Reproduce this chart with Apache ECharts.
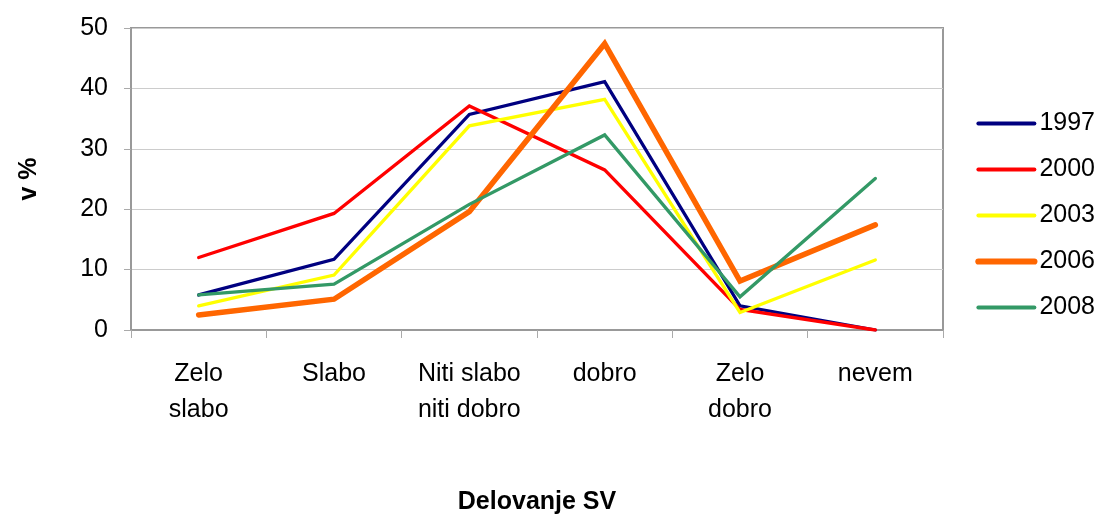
<!DOCTYPE html>
<html>
<head>
<meta charset="utf-8">
<script src="https://cdn.jsdelivr.net/npm/echarts@6/dist/echarts.min.js"></script>
<style>
html,body{margin:0;padding:0;background:#fff;}
#main{width:1103px;height:518px;}
</style>
</head>
<body>
<div id="main"></div>
<script>
var categories = ['Zelo\nslabo', 'Slabo', 'Niti slabo\nniti dobro', 'dobro', 'Zelo\ndobro', 'nevem'];
var years = ['1997', '2000', '2003', '2006', '2008'];
var v1997 = [5.8, 11.7, 35.7, 41.1, 4.0, 0];
var v2000 = [12.0, 19.3, 37.1, 26.5, 3.4, 0];
var v2003 = [4.0, 9.1, 33.8, 38.2, 2.9, 11.6];
var v2006 = [2.5, 5.1, 19.6, 47.4, 8.1, 17.4];
var v2008 = [5.8, 7.6, 20.8, 32.3, 5.5, 25.1];
var yTicks = [0, 10, 20, 30, 40, 50];

var colors = ['#000080', '#ff0000', '#ffff00', '#ff6600', '#339966'];
var widths = [3.3, 3.3, 3.3, 5.5, 3.3];
var allData = [v1997, v2000, v2003, v2006, v2008];

var font = 'Liberation Sans, Arial, sans-serif';
var myChart = echarts.init(document.getElementById('main'));

var series = [];
var legendData = [];
for (var i = 0; i < years.length; i++) {
	series.push({
		name: years[i],
		type: 'line',
		data: allData[i],
		symbol: 'none',
		color: colors[i],
		lineStyle: {color: colors[i], width: widths[i], cap: 'round', join: 'miter'},
		z: 2 + i
	});
	// legenda: samo črta, brez simbola
	legendData.push({
		name: years[i],
		lineStyle: {color: colors[i], width: widths[i] + 0.7, cap: 'round'},
		itemStyle: {opacity: 0}
	});
}

var option = {
	animation: false,
	backgroundColor: '#fff',
	grid: {
		left: 131, top: 28, right: 160, bottom: 188,
		outerBoundsMode: 'none',
		containLabel: false,
		show: true, borderColor: '#999', borderWidth: 2
	},
	legend: {
		orient: 'vertical',
		right: 3,
		top: 106,
		itemWidth: 56,
		itemHeight: 4,
		itemGap: 21,
		data: legendData,
		textStyle: {fontFamily: font, fontSize: 25, color: '#000', lineHeight: 25}
	},
	xAxis: {
		type: 'category',
		data: categories,
		boundaryGap: true,
		name: 'Delovanje SV',
		nameLocation: 'middle',
		nameGap: 160,
		nameTextStyle: {fontFamily: font, fontSize: 25, fontWeight: 'bold', color: '#000'},
		axisLine: {lineStyle: {color: '#999', width: 2}},
		axisTick: {show: true, length: 8, lineStyle: {color: '#aaa', width: 1}},
		axisLabel: {fontFamily: font, fontSize: 25, color: '#000', lineHeight: 36, margin: 26, interval: 0}
	},
	yAxis: {
		type: 'value',
		min: yTicks[0],
		max: yTicks[yTicks.length - 1],
		interval: 10,
		name: 'v %',
		nameLocation: 'middle',
		nameGap: 89,
		nameRotate: 90,
		nameTextStyle: {fontFamily: font, fontSize: 25, fontWeight: 'bold', color: '#000'},
		axisLine: {show: true, lineStyle: {color: '#999', width: 2}},
		axisTick: {show: true, length: 7, lineStyle: {color: '#aaa', width: 1}},
		axisLabel: {fontFamily: font, fontSize: 25, color: '#000', margin: 23},
		splitLine: {lineStyle: {color: '#ccc', width: 1}}
	},
	series: series
};

myChart.setOption(option, true);
</script>
</body>
</html>
